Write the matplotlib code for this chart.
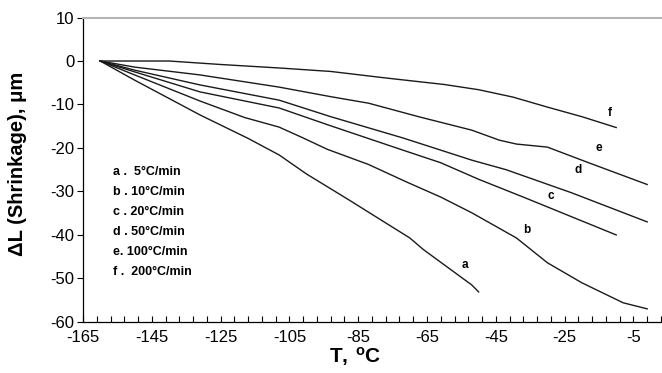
import numpy as np
import matplotlib.pyplot as plt
from matplotlib.ticker import MultipleLocator, FixedLocator

plt.rcParams['font.family'] = ['Liberation Sans', 'DejaVu Sans']
plt.rcParams['mathtext.fontset'] = 'custom'
plt.rcParams['mathtext.rm'] = 'Liberation Sans'
plt.rcParams['mathtext.bf'] = 'Liberation Sans:bold'
plt.rcParams['axes.unicode_minus'] = False

# --- data (T in degC, shrinkage in um) ---
t_a = [-160, -150, -131, -117, -108, -100, -88, -70, -66, -52, -50]
dl_a = [0, -4.4, -12.4, -17.8, -21.6, -26.0, -31.8, -40.7, -43.4, -51.5, -53.1]

t_b = [-160, -150, -131, -118, -108, -101, -94, -82, -71, -61, -52, -39, -30, -20, -8, -1]
dl_b = [0, -3.2, -9.2, -13.0, -15.2, -17.7, -20.3, -23.8, -27.8, -31.3, -34.9, -40.7, -46.4, -51.0, -55.6, -57.0]

t_c = [-160, -150, -131, -108, -93, -72, -61, -50, -37, -10]
dl_c = [0, -2.5, -7.1, -10.8, -14.9, -20.5, -23.4, -27.2, -31.3, -40.0]

t_d = [-160, -150, -131, -108, -93, -72, -61, -52, -42, -23, -1]
dl_d = [0, -2.1, -5.5, -9.0, -12.8, -17.7, -20.5, -22.8, -25.0, -30.3, -37.0]

t_e = [-160, -150, -131, -108, -93, -82, -67, -52, -44, -39, -30, -18, -1]
dl_e = [0, -1.4, -3.2, -6.0, -8.2, -9.7, -12.9, -15.9, -18.2, -19.1, -19.8, -23.4, -28.4]

t_f = [-160, -140, -125, -108, -93, -77, -60, -50, -40, -30, -20, -10]
dl_f = [0, 0, -0.8, -1.6, -2.4, -3.9, -5.4, -6.6, -8.3, -10.6, -12.8, -15.3]

curve_names = ['a', 'b', 'c', 'd', 'e', 'f']
curve_t = [t_a, t_b, t_c, t_d, t_e, t_f]
curve_dl = [dl_a, dl_b, dl_c, dl_d, dl_e, dl_f]
# where each letter sits next to its curve
label_t = [-54, -36, -29, -21, -15, -12]
label_dl = [-47, -38.8, -31, -25, -20, -12]

legend_lines = ['a .  5°C/min', 'b . 10°C/min', 'c . 20°C/min',
                'd . 50°C/min', 'e. 100°C/min', 'f .  200°C/min']

fig = plt.figure(figsize=(6.62, 3.73), dpi=100)
ax = fig.add_axes([0.1254, 0.137, 0.873, 0.816])

for t, dl in zip(curve_t, curve_dl):
    ax.plot(t, dl, color='#1a1a1a', lw=1.0)

for name, x, y in zip(curve_names, label_t, label_dl):
    ax.text(x, y, name, fontsize=8.5, fontweight='bold', ha='center', va='center')

for i, s in enumerate(legend_lines):
    ax.text(0.052, 0.492 - i * 0.0656, s, transform=ax.transAxes, fontsize=9,
            fontweight='bold', ha='left', va='center')

ax.set_xlim(-165, 3)
ax.set_ylim(-60, 10)
ax.xaxis.set_major_locator(FixedLocator(np.arange(-165, 4, 20)))
ax.xaxis.set_minor_locator(FixedLocator(np.arange(-165, 4, 4)))
ax.yaxis.set_major_locator(MultipleLocator(10))
ax.tick_params(axis='x', which='both', direction='in', length=4, width=0.8, labelsize=12, pad=6)
ax.tick_params(axis='y', direction='out', length=4, width=0.8, labelsize=12, pad=2)

ax.spines['right'].set_visible(False)
ax.spines['top'].set_color('#b5b5b5')
ax.spines['top'].set_linewidth(1.5)
for side in ['left', 'bottom']:
    ax.spines[side].set_linewidth(0.9)

ax.set_xlabel(r'$\mathbf{T,\,{}^{o}C}$', fontsize=15, labelpad=0)
ax.xaxis.set_label_coords(0.47, -0.075)
ax.set_ylabel('ΔL (Shrinkage), μm', fontsize=14.5, fontweight='bold')
ax.yaxis.set_label_coords(-0.097, 0.52)

plt.savefig('out.png', dpi=100)
